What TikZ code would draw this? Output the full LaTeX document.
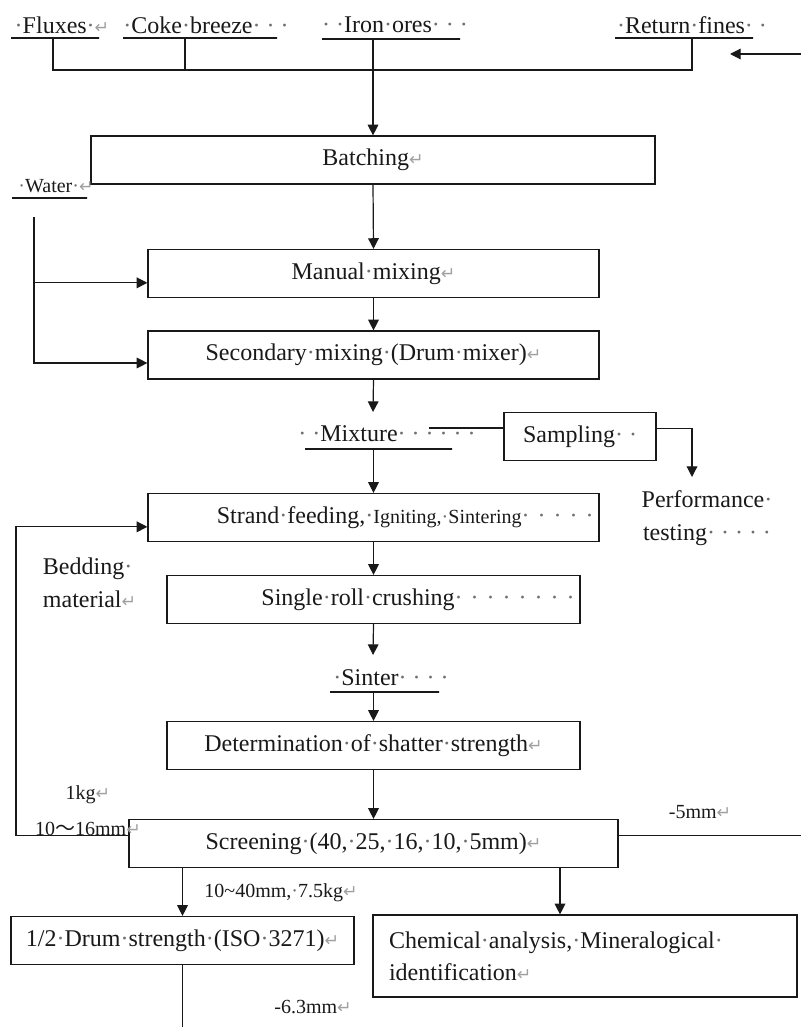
\documentclass[tikz,border=0pt]{standalone}
\usepackage{fontspec}
\setmainfont{Liberation Serif}
\newfontfamily\retfont{DejaVu Sans}
\newfontfamily\cjkfont{Noto Sans CJK SC}
\usepackage{tikz}
\usetikzlibrary{arrows.meta, positioning, calc}
\usepackage{xcolor}
\definecolor{ink}{RGB}{25,25,25}
\definecolor{dotgray}{RGB}{110,110,110}
\definecolor{markgray}{RGB}{160,160,160}
\newcommand{\sdot}{\textcolor{dotgray}{·}}
\newcommand{\ret}{\textcolor{markgray}{\retfont\fontsize{13}{13}\selectfont ↵}}

\begin{document}
\begin{tikzpicture}[x=0.75pt, y=-0.75pt, color=ink, line width=0.9pt,
  >={Triangle[length=8pt,width=8pt]},
  box/.style={draw, minimum height=36pt, inner xsep=4pt, font=\fontsize{18}{24}\selectfont},
  rbox/.style={box, align=right},
  bar/.style={draw, minimum height=0pt, inner sep=0pt},
  lbl/.style={inner sep=1pt, font=\fontsize{18}{25}\selectfont},
  note/.style={inner sep=1pt, font=\fontsize{15}{18}\selectfont},
  arr/.style={->}]
  \useasboundingbox (0,0) rectangle (801,1027);

  \node[lbl] (flux) at (62,25) {\sdot Fluxes\sdot\ret};
  \node[bar, minimum width=66pt] (fluxbar) at (55,38) {};
  \node[lbl] (coke) at (206,25) {\sdot Coke\sdot breeze\sdot\ \sdot\ \sdot};
  \node[bar, minimum width=115.5pt] (cokebar) at (200,38) {};
  \node[lbl] (iron) at (395,25) {\sdot\ \sdot Iron\sdot ores\sdot\ \sdot\ \sdot};
  \node[bar, minimum width=103.5pt] (ironbar) at (391,39) {};
  \node[lbl] (fines) at (692,25) {\sdot Return\sdot fines\sdot\ \sdot};
  \node[bar, minimum width=103.5pt] (finesbar) at (684,38) {};

  \node[box, minimum width=423pt] (batch) at (373,160) {Batching\ret};
  \node[note] (water) at (56,186) {\sdot Water\sdot\ret};
  \node[bar, minimum width=56.25pt] (waterbar) at (49.5,198) {};
  \node[box, minimum width=338.25pt] (manmix) at (373.5,273.5) {Manual\sdot mixing\ret};
  \node[box, minimum width=338.25pt] (secmix) at (373.5,355) {Secondary\sdot mixing\sdot(Drum\sdot mixer)\ret};

  \node[lbl] (mixture) at (387,434) {\sdot\ \sdot Mixture\sdot\ \sdot\ \sdot\ \sdot\ \sdot\ \sdot};
  \node[bar, minimum width=110.25pt] (mixbar) at (378.5,449) {};
  \node[box, minimum width=114pt] (samp) at (580,436.5) {Sampling\sdot\ \sdot};
  \node[lbl, align=center] (perf) at (707,518) {Performance\sdot\\testing\sdot\ \sdot\ \sdot\ \sdot\ \sdot};

  \node[rbox, minimum width=338.25pt, text width=330.25pt] (strand) at (373.5,517.5)
    {Strand\sdot feeding,\sdot{\fontsize{15}{17}\selectfont Igniting,\sdot Sintering}\sdot\ \sdot\ \sdot\ \sdot\ \sdot};
  \node[lbl, align=left, anchor=west] (bed) at (41,583) {Bedding\sdot\\material\ret};
  \node[rbox, minimum width=309.75pt, text width=301.75pt] (single) at (373.5,599.5)
    {Single\sdot roll\sdot crushing\sdot\ \sdot\ \sdot\ \sdot\ \sdot\ \sdot\ \sdot\ \sdot};
  \node[lbl] (sinter) at (391,678) {\sdot Sinter\sdot\ \sdot\ \sdot\ \sdot};
  \node[bar, minimum width=81.75pt] (sinbar) at (384.5,692) {};
  \node[box, minimum width=309.75pt] (det) at (373.5,745.5) {Determination\sdot of\sdot shatter\sdot strength\ret};

  \node[box, minimum width=366.75pt] (screen) at (373.5,843.5) {Screening\sdot(40,\sdot 25,\sdot 16,\sdot 10,\sdot 5mm)\ret};
  \node[note] (kg) at (88,795) {1kg\ret};
  \node[note] (bedsize) at (88,829) {10{\cjkfont ～}16mm\ret};
  \node[note] (fines5) at (700,812) {-5mm\ret};
  \node[note] (drumfeed) at (281,893) {10\textasciitilde 40mm,\sdot 7.5kg\ret};
  \node[box, minimum width=257.25pt] (drum) at (182.5,940.5) {1/2\sdot Drum\sdot strength\sdot(ISO\sdot 3271)\ret};
  \node[box, minimum width=318pt, minimum height=61.5pt, text width=294pt, inner xsep=12pt, align=left] (chem) at (585,956)
    {Chemical\sdot analysis,\sdot Mineralogical\sdot\\identification\ret};
  \node[note] (drumfine) at (313,1007) {-6.3mm\ret};

  \coordinate (jf) at (53,70);
  \coordinate (jc) at (185,70);
  \coordinate (jr) at (692,70);
  \draw (jf |- fluxbar.south) -- (jf) -- (jr) -- (jr |- finesbar.south);
  \draw (jc |- cokebar.south) -- (jc);
  \draw[arr] (ironbar.south -| batch.north) -- (batch.north);
  \coordinate (rin) at (801,54);
  \coordinate (rtip) at (730,54);
  \draw[arr] (rin) -- (rtip);

  \draw[arr] (batch.south) -- (manmix.north);
  \draw[arr] (manmix.south) -- (secmix.north);
  \coordinate (wtop) at (34,217);
  \coordinate (manin) at ([yshift=-7pt]manmix.west);
  \coordinate (secin) at ([yshift=-6pt]secmix.west);
  \draw[arr] (wtop) |- (secin);
  \draw[arr] (manin -| wtop) -- (manin);

  \coordinate (mixin) at (373,412);
  \draw[arr] (secmix.south) -- (mixin);
  \draw[arr] (mixbar -| strand.north) -- (strand.north);
  \coordinate (mixout) at (429,428);
  \draw (mixout) -- (mixout -| samp.west);
  \coordinate (perfin) at (692,477);
  \draw[arr] ([yshift=6pt]samp.east) -| (perfin);

  \draw[arr] (strand.south) -- (single.north);
  \coordinate (sinin) at (373,655);
  \draw[arr] (single.south) -- (sinin);
  \draw[arr] (sinbar -| det.north) -- (det.north);
  \draw[arr] (det.south) -- (screen.north);

  \coordinate (bedx) at (16,680);
  \coordinate (strin) at ([yshift=-7pt]strand.west);
  \draw[arr] ([yshift=6pt]screen.west) -| (bedx) |- (strin);
  \coordinate (scrout) at ([yshift=6pt]screen.east);
  \coordinate (fout) at (801,835);
  \draw (scrout) -- (scrout -| fout);

  \draw[arr] (screen.south -| drum.north) -- (drum.north);
  \coordinate (chx) at (560,0);
  \draw[arr] (screen.south -| chx) -- (chem.north -| chx);
  \coordinate (drout) at (185,1027);
  \draw (drum.south) -- (drum.south |- drout);
\end{tikzpicture}
\end{document}
